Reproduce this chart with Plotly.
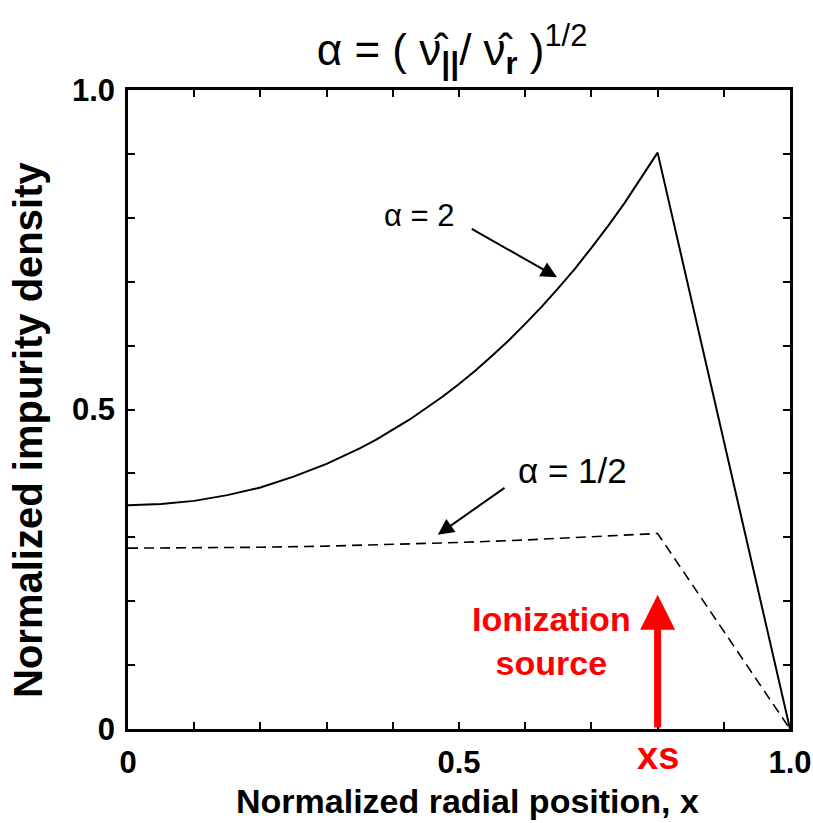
import plotly.graph_objects as go

# Data
x_solid = [0.0, 0.05, 0.1, 0.15, 0.2, 0.25, 0.3, 0.35, 0.375, 0.4, 0.425, 0.45, 0.475, 0.5,
           0.525, 0.55, 0.575, 0.6, 0.625, 0.65, 0.675, 0.7, 0.725, 0.75, 0.775, 0.8, 1.0]
y_solid = [0.350, 0.352, 0.357, 0.366, 0.378, 0.395, 0.415, 0.439, 0.453, 0.468, 0.484, 0.502, 0.520, 0.540,
           0.561, 0.584, 0.608, 0.634, 0.661, 0.690, 0.720, 0.753, 0.787, 0.823, 0.862, 0.902, 0.0]
x_dash = [0.0, 0.1, 0.2, 0.3, 0.4, 0.5, 0.6, 0.7, 0.8, 1.0]
y_dash = [0.283, 0.2834, 0.2844, 0.2862, 0.2887, 0.2919, 0.2958, 0.3005, 0.306, 0.0]
xs = 0.8
source_top = 0.21
major_ticks = [0, 0.5, 1.0]
x_tick_text = ["0", "0.5", "1.0"]
y_tick_text = ["0", "0.5", "1.0"]
minor_step = 0.1

FONT = "Liberation Sans, Arial, sans-serif"

fig = go.Figure()
fig.add_trace(go.Scatter(x=x_solid, y=y_solid, mode="lines",
                         line=dict(color="black", width=2), showlegend=False))
fig.add_trace(go.Scatter(x=x_dash, y=y_dash, mode="lines",
                         line=dict(color="black", width=1.6, dash="10px,6px"), showlegend=False))

axis_common = dict(range=[0, 1], showline=True, linecolor="black", linewidth=2.5,
                   mirror="allticks", ticks="inside", ticklen=7, tickwidth=1.5,
                   tickcolor="black", showgrid=False, zeroline=False, automargin=False,
                   tickvals=major_ticks,
                   minor=dict(dtick=minor_step, tick0=0, ticks="inside", ticklen=7,
                              tickwidth=1.5, tickcolor="black", showgrid=False),
                   tickfont=dict(family=FONT, size=31, color="black", weight="bold"))

fig.update_layout(
    width=813, height=823,
    margin=dict(l=128, r=23, t=90, b=94),
    plot_bgcolor="white", paper_bgcolor="white",
    title=dict(text="α = ( ν̂<sub><b><span style='font-size:32px'>||</span></b></sub>/ ν̂<sub><b>r</b></sub> )<sup>1/2</sup>",
               x=0.556, xanchor="center", y=0.94, yanchor="middle", yref="container",
               font=dict(family=FONT, size=44, color="black")),
    xaxis=dict(axis_common, ticktext=x_tick_text, ticklabelstandoff=4),
    yaxis=dict(axis_common, ticktext=y_tick_text, ticklabelstandoff=4),
)

# Axis titles
fig.add_annotation(x=0.5, y=0, xref="paper", yref="paper", yanchor="middle",
                   yshift=-72, xshift=8, showarrow=False,
                   text="<b>Normalized radial position, x</b>",
                   font=dict(family=FONT, size=34, color="black"))
fig.add_annotation(x=0, y=0.468, xref="paper", yref="paper", xanchor="center",
                   xshift=-100, showarrow=False, textangle=-90,
                   text="<b>Normalized impurity density</b>",
                   font=dict(family=FONT, size=40, color="black"))

# Red ionization-source arrow
fig.add_annotation(x=xs, y=source_top, ax=xs, ay=0, xref="x", yref="y", axref="x", ayref="y",
                   text="", showarrow=True, arrowhead=2, arrowsize=1.0, arrowwidth=7,
                   arrowcolor="red")
fig.add_annotation(x=0.64, y=0.138, xref="x", yref="y", showarrow=False,
                   text="<b>Ionization<br>source</b>", align="center",
                   font=dict(family=FONT, size=34, color="red"))
fig.add_annotation(x=xs, y=0, xref="x", yref="y", yanchor="top", yshift=-4, showarrow=False,
                   text="<b>xs</b>", font=dict(family=FONT, size=38, color="red"))

# Curve labels
fig.add_annotation(x=0.44, y=0.804, xref="x", yref="y", showarrow=False,
                   text="α = 2", font=dict(family=FONT, size=31, color="black"))
fig.add_annotation(x=0.648, y=0.707, ax=0.517, ay=0.784, xref="x", yref="y", axref="x", ayref="y",
                   text="", showarrow=True, arrowhead=2, arrowsize=1.6, arrowwidth=2, arrowcolor="black")
fig.add_annotation(x=0.672, y=0.405, xref="x", yref="y", showarrow=False,
                   text="α = 1/2", font=dict(family=FONT, size=35, color="black"))
fig.add_annotation(x=0.468, y=0.304, ax=0.571, ay=0.379, xref="x", yref="y", axref="x", ayref="y",
                   text="", showarrow=True, arrowhead=2, arrowsize=1.6, arrowwidth=2, arrowcolor="black")

fig.write_html("out.html")
